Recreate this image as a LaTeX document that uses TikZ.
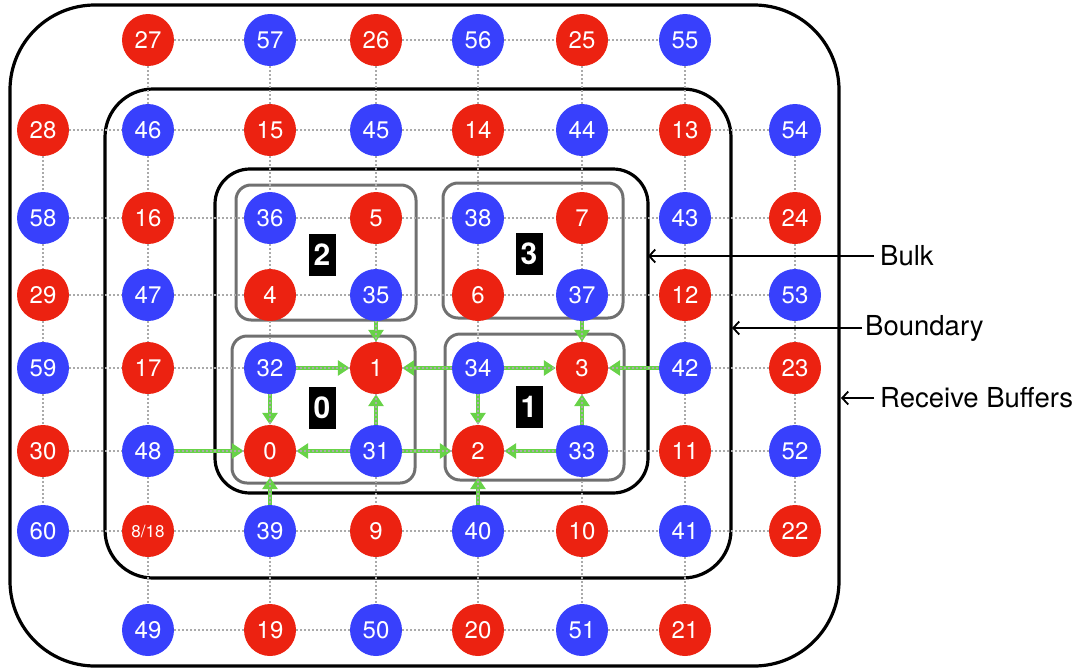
\documentclass[tikz,border=0pt]{standalone}
\usepackage{fontspec}
\setmainfont{TeX Gyre Heros}
\usetikzlibrary{arrows.meta}
\definecolor{nred}{RGB}{236,34,17}
\definecolor{nblue}{RGB}{56,64,252}
\definecolor{ngreen}{RGB}{104,210,72}
\definecolor{ngray}{RGB}{112,112,112}
\definecolor{dotgray}{RGB}{170,170,170}
\tikzset{
  base/.style={circle,minimum size=52pt,inner sep=0pt,text=white,font=\fontsize{24}{24}\selectfont},
  rn/.style={base,fill=nred},
  bn/.style={base,fill=nblue},
  gridline/.style={draw=dotgray,line width=2pt,dash pattern=on 2pt off 2pt},
  flow/.style={draw=ngreen,line width=4pt,-{Triangle[length=12pt,width=15pt]}},
  region/.style={draw=black,line width=3.2pt},
  subdom/.style={draw=ngray,line width=3pt,rounded corners=15pt},
  tag/.style={fill=black,text=white,minimum width=27pt,minimum height=42pt,inner sep=0pt,font=\fontsize{30}{30}\selectfont\bfseries},
  note/.style={anchor=west,inner sep=0pt,font=\fontsize{27.5}{27.5}\selectfont},
  notearrow/.style={draw=black,line width=1.8pt,-{Straight Barb[length=6pt,width=13pt]}}
}
\begin{document}
\begin{tikzpicture}[x=1pt,y=-1pt]
\useasboundingbox (0,0) rectangle (1090,670);
% regions
\draw[region,rounded corners=85pt] (10,5) rectangle (839,666);
\draw[region,rounded corners=48pt] (105,89) rectangle (731,578);
\draw[region,rounded corners=35pt] (215,169) rectangle (648,493);
\draw[subdom] (236,185) rectangle (416,320);
\draw[subdom] (443,183) rectangle (623,318);
\draw[subdom] (232,336) rectangle (415,483);
\draw[subdom] (445,334) rectangle (624,480);
% row 0
\node[rn] (r0c1) at (148,40) {27};
\node[bn] (r0c2) at (270,40) {57};
\node[rn] (r0c3) at (376,40) {26};
\node[bn] (r0c4) at (478,40) {56};
\node[rn] (r0c5) at (582,40) {25};
\node[bn] (r0c6) at (685,40) {55};
% row 1
\node[rn] (r1c0) at (43,130) {28};
\node[bn] (r1c1) at (148,130) {46};
\node[rn] (r1c2) at (270,130) {15};
\node[bn] (r1c3) at (376,130) {45};
\node[rn] (r1c4) at (478,130) {14};
\node[bn] (r1c5) at (582,130) {44};
\node[rn] (r1c6) at (685,130) {13};
\node[bn] (r1c7) at (795,130) {54};
% row 2
\node[bn] (r2c0) at (43,218) {58};
\node[rn] (r2c1) at (148,218) {16};
\node[bn] (r2c2) at (270,218) {36};
\node[rn] (r2c3) at (376,218) {5};
\node[bn] (r2c4) at (478,218) {38};
\node[rn] (r2c5) at (582,218) {7};
\node[bn] (r2c6) at (685,218) {43};
\node[rn] (r2c7) at (795,218) {24};
% row 3
\node[rn] (r3c0) at (43,295) {29};
\node[bn] (r3c1) at (148,295) {47};
\node[rn] (r3c2) at (270,295) {4};
\node[bn] (r3c3) at (376,295) {35};
\node[rn] (r3c4) at (478,295) {6};
\node[bn] (r3c5) at (582,295) {37};
\node[rn] (r3c6) at (685,295) {12};
\node[bn] (r3c7) at (795,295) {53};
% row 4
\node[bn] (r4c0) at (43,368) {59};
\node[rn] (r4c1) at (148,368) {17};
\node[bn] (r4c2) at (270,368) {32};
\node[rn] (r4c3) at (376,368) {1};
\node[bn] (r4c4) at (478,368) {34};
\node[rn] (r4c5) at (582,368) {3};
\node[bn] (r4c6) at (685,368) {42};
\node[rn] (r4c7) at (795,368) {23};
% row 5
\node[rn] (r5c0) at (43,451) {30};
\node[bn] (r5c1) at (148,451) {48};
\node[rn] (r5c2) at (270,451) {0};
\node[bn] (r5c3) at (376,451) {31};
\node[rn] (r5c4) at (478,451) {2};
\node[bn] (r5c5) at (582,451) {33};
\node[rn] (r5c6) at (685,451) {11};
\node[bn] (r5c7) at (795,451) {52};
% row 6
\node[bn] (r6c0) at (43,531) {60};
\node[rn,font=\fontsize{17}{17}\selectfont] (r6c1) at (148,531) {8/18};
\node[bn] (r6c2) at (270,531) {39};
\node[rn] (r6c3) at (376,531) {9};
\node[bn] (r6c4) at (478,531) {40};
\node[rn] (r6c5) at (582,531) {10};
\node[bn] (r6c6) at (685,531) {41};
\node[rn] (r6c7) at (795,531) {22};
% row 7
\node[bn] (r7c1) at (148,630) {49};
\node[rn] (r7c2) at (270,630) {19};
\node[bn] (r7c3) at (376,630) {50};
\node[rn] (r7c4) at (478,630) {20};
\node[bn] (r7c5) at (582,630) {51};
\node[rn] (r7c6) at (685,630) {21};
% green flows
\draw[flow] (r4c2) -- (r4c3);
\draw[flow] (r4c4) -- (r4c3);
\draw[flow] (r3c3) -- (r4c3);
\draw[flow] (r5c3) -- (r4c3);
\draw[flow] (r4c2) -- (r5c2);
\draw[flow] (r5c3) -- (r5c2);
\draw[flow] (r5c1) -- (r5c2);
\draw[flow] (r6c2) -- (r5c2);
\draw[flow] (r4c4) -- (r4c5);
\draw[flow] (r4c6) -- (r4c5);
\draw[flow] (r3c5) -- (r4c5);
\draw[flow] (r5c5) -- (r4c5);
\draw[flow] (r4c4) -- (r5c4);
\draw[flow] (r5c5) -- (r5c4);
\draw[flow] (r5c3) -- (r5c4);
\draw[flow] (r6c4) -- (r5c4);
% dotted grid
\foreach \r in {1,...,6}{
  \foreach \c [evaluate=\c as \n using int(\c+1)] in {0,...,6}{
    \draw[gridline] (r\r c\c) -- (r\r c\n);
  }
}
\foreach \r in {0,7}{
  \foreach \c [evaluate=\c as \n using int(\c+1)] in {1,...,5}{
    \draw[gridline] (r\r c\c) -- (r\r c\n);
  }
}
\foreach \c in {1,...,6}{
  \foreach \r [evaluate=\r as \n using int(\r+1)] in {0,...,6}{
    \draw[gridline] (r\r c\c) -- (r\n c\c);
  }
}
\foreach \c in {0,7}{
  \foreach \r [evaluate=\r as \n using int(\r+1)] in {1,...,5}{
    \draw[gridline] (r\r c\c) -- (r\n c\c);
  }
}
% subdomain tags
\node[tag] (t2) at (322,255) {2};
\node[tag] (t3) at (529,254) {3};
\node[tag] (t0) at (322,408) {0};
\node[tag] (t1) at (529,407) {1};
% annotations
\node[note] (bulk) at (880,256) {Bulk};
\node[note] (bnd) at (865,328) {Boundary};
\node[note] (rcv) at (880,398) {Receive Buffers};
\coordinate (bulkE) at (648,256);
\coordinate (bndE) at (732,328);
\coordinate (rcvE) at (841,398);
\draw[notearrow] ([xshift=-6pt]bulk.west) -- (bulkE);
\draw[notearrow] ([xshift=-3pt]bnd.west) -- (bndE);
\draw[notearrow] ([xshift=-6pt]rcv.west) -- (rcvE);
\end{tikzpicture}
\end{document}
